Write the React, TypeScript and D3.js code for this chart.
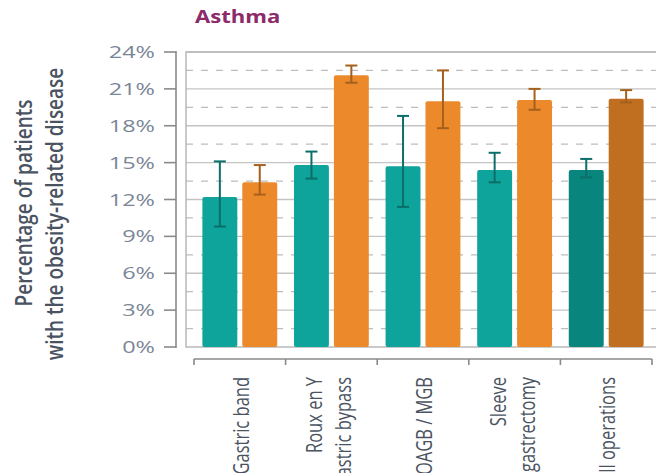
import React from "react";
import * as d3 from "d3";

// Asthma prevalence by operation type, before vs after surgery
const categories = ["Gastric band", "Roux en Y|Gastric bypass", "OAGB / MGB", "Sleeve|gastrectomy", "All operations"];
const series = ["before", "after"];
const beforeValues = [12.2, 14.8, 14.7, 14.4, 14.4];
const beforeLow = [9.8, 13.7, 11.4, 13.4, 13.8];
const beforeHigh = [15.1, 15.9, 18.8, 15.8, 15.3];
const afterValues = [13.4, 22.1, 20.0, 20.1, 20.2];
const afterLow = [12.4, 21.5, 17.8, 19.3, 19.9];
const afterHigh = [14.8, 22.9, 22.5, 21.0, 20.9];
const yTicks = [0, 3, 6, 9, 12, 15, 18, 21, 24];
const yMinor = [1.5, 4.5, 7.5, 10.5, 13.5, 16.5, 19.5, 22.5];

const W = 656;
const H = 473;
const SX = 1.38; // horizontal text stretch
const FONT = "'Open Sans', 'DejaVu Sans', sans-serif";

const colors = {
  before: "#0ea49b",
  after: "#ec8a2b",
  beforeTotal: "#08857c",
  afterTotal: "#c06f20",
  errBefore: "#0b6e68",
  errAfter: "#a4601c",
};

export default function App() {
  const y = d3.scaleLinear().domain([0, 24]).range([347, 52]);
  const x0 = d3.scaleBand<string>().domain(categories).range([194, 652]);
  const x1 = d3
    .scaleBand<string>()
    .domain(series)
    .range([0, x0.bandwidth()])
    .paddingInner(0.125)
    .paddingOuter(0.21);

  const frameLeft = 186;
  const frameRight = 662;

  const rows = categories.map((c, i) => ({
    c,
    i,
    vals: [
      { key: "before", v: beforeValues[i], lo: beforeLow[i], hi: beforeHigh[i] },
      { key: "after", v: afterValues[i], lo: afterLow[i], hi: afterHigh[i] },
    ],
  }));

  const boundaries = [...categories.map((c) => x0(c) as number), 652];

  return (
    <svg width={W} height={H} style={{ display: "block", position: "absolute", left: 0, top: 0 }}>
      <rect x={0} y={0} width={W} height={H} fill="#fff" />

      {/* title */}
      <text
        transform={`translate(195,23) scale(${SX - 0.08},1)`}
        fontFamily={FONT}
        fontWeight={700}
        fontSize={17}
        fill="#8c2a6a"
      >
        Asthma
      </text>

      {/* y axis title */}
      <g fontFamily={FONT} fontSize={19} fontWeight={600} fill="#4a5361" textAnchor="middle">
        <text transform={`translate(32,203) scale(${SX - 0.15},1) rotate(-90)`}>Percentage of patients</text>
        <text transform={`translate(63,214) scale(${SX - 0.15},1) rotate(-90)`}>with the obesity-related disease</text>
      </g>

      {/* y axis */}
      <line x1={176} x2={176} y1={y(24) - 1} y2={y(0) + 1} stroke="#8a8a8a" strokeWidth={1.6} />
      {yTicks.map((t) => (
        <g key={t}>
          <line x1={164} x2={176} y1={y(t)} y2={y(t)} stroke="#8a8a8a" strokeWidth={1.6} />
          <text
            transform={`translate(155,${y(t) + 6}) scale(${SX},1)`}
            textAnchor="end"
            fontFamily={FONT}
            fontSize={17}
            fill="#7a8596"
          >
            {t}%
          </text>
        </g>
      ))}

      {/* grid */}
      {yMinor.map((t) => (
        <line
          key={"m" + t}
          x1={frameLeft}
          x2={frameRight}
          y1={y(t)}
          y2={y(t)}
          stroke="#bdbdbd"
          strokeWidth={1.3}
          strokeDasharray="7 8"
        />
      ))}
      {yTicks.slice(1).map((t) => (
        <line key={"g" + t} x1={frameLeft} x2={frameRight} y1={y(t)} y2={y(t)} stroke="#c4c4c4" strokeWidth={1.3} />
      ))}
      <rect
        x={frameLeft}
        y={y(24)}
        width={frameRight - frameLeft}
        height={y(0) - y(24)}
        fill="none"
        stroke="#b8b8b8"
        strokeWidth={1.5}
      />

      {/* bars */}
      {rows.map((r) =>
        r.vals.map((d) => {
          const bx = (x0(r.c) as number) + (x1(d.key) as number);
          const bw = x1.bandwidth();
          const total = r.i === categories.length - 1;
          const fill = d.key === "before" ? (total ? colors.beforeTotal : colors.before) : total ? colors.afterTotal : colors.after;
          const err = d.key === "before" ? colors.errBefore : colors.errAfter;
          const cx = bx + bw / 2;
          return (
            <g key={r.c + d.key}>
              <rect x={bx} y={y(d.v)} width={bw} height={y(0) - y(d.v)} rx={2} fill={fill} />
              <line x1={cx} x2={cx} y1={y(d.hi)} y2={y(d.lo)} stroke={err} strokeWidth={2} />
              <line x1={cx - 6} x2={cx + 6} y1={y(d.hi)} y2={y(d.hi)} stroke={err} strokeWidth={2} />
              <line x1={cx - 6} x2={cx + 6} y1={y(d.lo)} y2={y(d.lo)} stroke={err} strokeWidth={2} />
            </g>
          );
        })
      )}

      {/* x axis */}
      <line x1={194} x2={652} y1={359} y2={359} stroke="#8a8a8a" strokeWidth={1.6} />
      {boundaries.map((b, i) => (
        <line key={"b" + i} x1={b} x2={b} y1={359} y2={365} stroke="#8a8a8a" strokeWidth={1.6} />
      ))}
      {categories.map((c) => {
        const cx = (x0(c) as number) + x0.bandwidth() / 2;
        const lines = c.split("|");
        const offs = lines.length === 1 ? [9] : [-9, 20];
        return (
          <g key={"l" + c} fontFamily={FONT} fontSize={16.5} fontWeight={500} fill="#4a5361" textAnchor="end">
            {lines.map((ln, k) => (
              <text key={k} transform={`translate(${cx + offs[k]},377) scale(${SX - 0.1},1) rotate(-90)`}>
                {ln}
              </text>
            ))}
          </g>
        );
      })}
    </svg>
  );
}
